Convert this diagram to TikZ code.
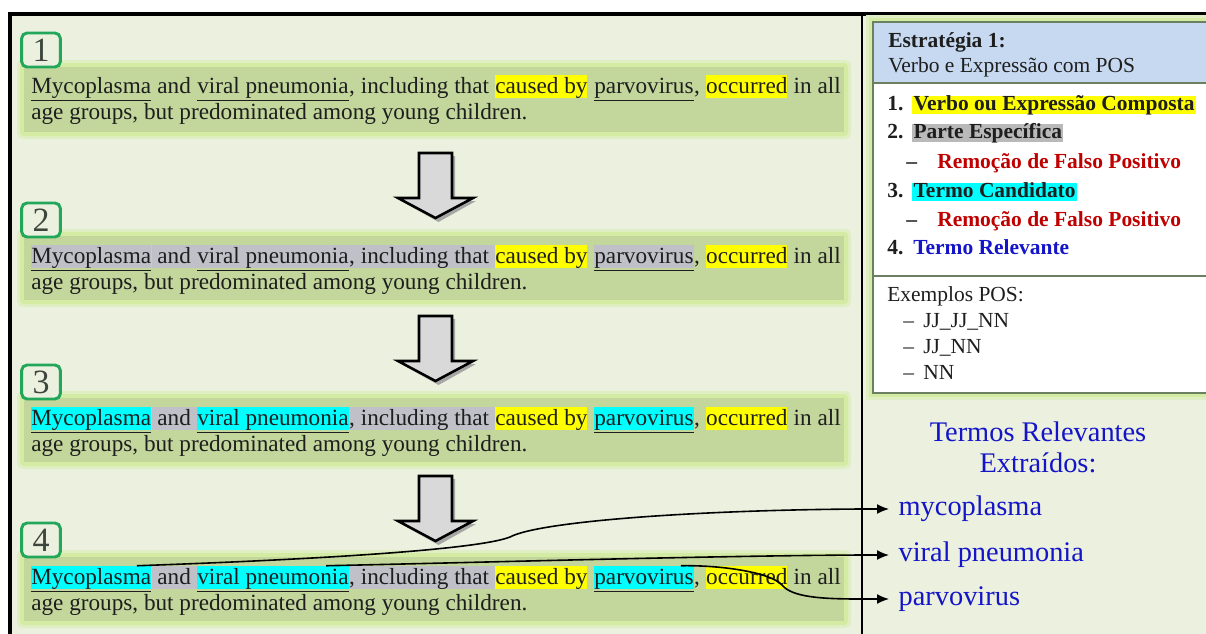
\documentclass[tikz,border=0pt]{standalone}
\usepackage{fontspec}
\setmainfont{Liberation Serif}
\usetikzlibrary{arrows.meta,calc}

\definecolor{panelbg}{HTML}{EBF1DE}
\definecolor{boxfill}{HTML}{C3D69B}
\definecolor{boxglow}{HTML}{D3EBA3}
\definecolor{tagline}{HTML}{22A65A}
\definecolor{tagtext}{HTML}{3C463C}
\definecolor{hlgray}{HTML}{C0C0C8}
\definecolor{hlyellow}{HTML}{FFFF00}
\definecolor{hlcyan}{HTML}{00FFFF}
\definecolor{headblue}{HTML}{C6D9F1}
\definecolor{legendline}{HTML}{6A8060}
\definecolor{falsered}{HTML}{C00000}
\definecolor{termblue}{HTML}{1414C8}
\definecolor{textdark}{HTML}{1E1E1E}

\newcommand\mainsize{\fontsize{17.4pt}{20pt}\selectfont}
\newcommand\legsize{\fontsize{16.1pt}{19pt}\selectfont}
\newcommand\termsize{\fontsize{21.3pt}{23.3pt}\selectfont}
% an interword space that survives at the end of a node
\newcommand\wsp{\ \null}

% one example sentence: #1 name prefix, #2 first baseline,
% #3..#7 highlight of Mycoplasma / and / viral pneumonia / including that / parvovirus
\newcommand\sentence[7]{%
  \node[wd,fill=#3] (#1a) at (31,#2) {\underline{Mycoplasma}};
  \node[wd,fill=#4] (#1b) at (#1a.base east) {\ and\wsp};
  \node[wd,fill=#5] (#1c) at (#1b.base east) {\underline{viral pneumonia}};
  \node[wd,fill=#6] (#1d) at (#1c.base east) {, including that\wsp};
  \node[wd,fill=hlyellow] (#1e) at (#1d.base east) {caused by};
  \node[wd] (#1f) at (#1e.base east) {\wsp};
  \node[wd,fill=#7] (#1g) at (#1f.base east) {\underline{parvovirus}};
  \node[wd] (#1h) at (#1g.base east) {,\wsp};
  \node[wd,fill=hlyellow] (#1i) at (#1h.base east) {occurred};
  \node[wd] (#1j) at (#1i.base east) {\ in all};
  \node[wd] (#1k) at (31,{#2+26}) {age groups, but predominated among young children.};
}

% glowing green panel behind a sentence: #1 top, #2 bottom
\newcommand\sentpanel[2]{%
  \fill[boxglow!45!panelbg, rounded corners=4] (17,{#1-7}) rectangle (851,{#2+7});
  \fill[boxglow, rounded corners=3] (20,{#1-4}) rectangle (848,{#2+4});
  \fill[boxfill] (24,#1) rectangle (844,#2);
}

\tikzset{
  wd/.style={inner sep=0pt, anchor=base west, text height=13.5pt, text depth=4pt,
             font=\mainsize, text=textdark},
  tag/.style={draw=tagline, line width=2.2pt, rounded corners=4pt, fill=panelbg,
              minimum width=29pt, minimum height=25.5pt, inner sep=0pt,
              font=\fontsize{25.5pt}{26pt}\selectfont, text=tagtext},
  leg/.style={anchor=west, inner sep=0pt, text height=10.8pt, text depth=3.2pt,
              font=\legsize, text=textdark},
  legb/.style={leg, font=\legsize\bfseries},
  hl/.style={fill=#1, inner xsep=1pt},
  term/.style={anchor=west, inner xsep=7pt, inner ysep=0pt, text height=14pt,
               text depth=4.5pt, font=\termsize, text=termblue},
  conn/.style={draw=black, line width=1.2pt, -{Latex[length=9pt,width=7.5pt]}},
  pics/downarrow/.style={code={
    \fill[gray!70] (-13.5,3) -- (19.5,3) -- (19.5,48) -- (40.5,48) -- (3,69)
      -- (-34.5,48) -- (-13.5,48) -- cycle;
    \shadedraw[line width=1.9pt, line join=miter, shading=axis, shading angle=90,
      left color=gray!30, middle color=white, right color=gray!30]
      (-16.5,0) -- (16.5,0) -- (16.5,45) -- (37.5,45)
      -- (0,65) -- (-37.5,45) -- (-16.5,45) -- cycle;
  }},
}

\begin{document}
\begin{tikzpicture}[x=0.75pt,y=-0.75pt]
\useasboundingbox (0,0) rectangle (1206,633);
\clip (0,0) rectangle (1206,633);

% page and framed area
\fill[white] (0,0) rectangle (1206,633);
\fill[panelbg] (10,14) rectangle (1210,640);
\draw[line width=2.6pt] (10,640) -- (10,14) -- (1210,14);
\draw[line width=1.3pt] (862,14) -- (862,640);

% sentence panels
\sentpanel{67}{132}
\sentpanel{236}{300}
\sentpanel{398}{462}
\sentpanel{557}{621}

% step tags
\node[tag] (t1) at (41,50) {1};
\node[tag] (t2) at (41,220) {2};
\node[tag] (t3) at (41,382) {3};
\node[tag] (t4) at (41,540) {4};

% block arrows between steps
\pic at (435.5,153) {downarrow};
\pic at (435.5,316) {downarrow};
\pic at (435.5,476) {downarrow};

% the four stages of the sentence
\sentence{sa}{93}{none}{none}{none}{none}{none}
\sentence{sb}{263}{hlgray}{hlgray}{hlgray}{hlgray}{hlgray}
\sentence{sc}{425}{hlcyan}{hlgray}{hlcyan}{hlgray}{hlcyan}
\sentence{sd}{584}{hlcyan}{hlgray}{hlcyan}{hlgray}{hlcyan}

% strategy legend
\fill[boxglow!45!panelbg] (866,15) rectangle (1215,400);
\fill[boxglow] (869,18) rectangle (1215,397);
\fill[white] (873,22) rectangle (1215,393);
\fill[headblue] (873,22) rectangle (1215,83);
\draw[legendline, line width=0.9pt] (1215,22) -- (873,22) -- (873,393) -- (1215,393);
\draw[legendline, line width=0.9pt] (873,83) -- (1215,83);
\draw[legendline, line width=0.9pt] (873,276) -- (1215,276);

\node[legb] (h1) at (888,42) {Estratégia 1:};
\node[leg] (h2) at (888,67) {Verbo e Expressão com POS};

\node[legb] (n1) at (887,105) {1.};
\node[legb, hl=hlyellow] (i1) at (912,105) {Verbo ou Expressão Composta};
\node[legb] (n2) at (887,133) {2.};
\node[legb, hl=gray!55] (i2) at (912,133) {Parte Específica};
\node[legb] (d1) at (906,163) {–};
\node[legb, text=falsered] (r1) at (937,163) {Remoção de Falso Positivo};
\node[legb] (n3) at (887,192) {3.};
\node[legb, hl=hlcyan] (i3) at (912,192) {Termo Candidato};
\node[legb] (d2) at (906,221) {–};
\node[legb, text=falsered] (r2) at (937,221) {Remoção de Falso Positivo};
\node[legb] (n4) at (887,249) {4.};
\node[legb, text=termblue] (i4) at (913,249) {Termo Relevante};

\node[leg] (ex) at (887,296) {Exemplos POS:};
\node[leg] (e1d) at (903,322) {–};
\node[leg] (e1) at (923,322) {JJ\_JJ\_NN};
\node[leg] (e2d) at (903,348) {–};
\node[leg] (e2) at (923,348) {JJ\_NN};
\node[leg] (e3d) at (903,374) {–};
\node[leg] (e3) at (923,374) {NN};

% extracted terms
\node[align=center, font=\termsize, text=termblue] (ttl) at (1038,447)
  {Termos Relevantes\\Extraídos:};
\node[term] (m1) at (889,509) {mycoplasma};
\node[term] (m2) at (889,555) {viral pneumonia};
\node[term] (m3) at (889,599) {parvovirus};

% links from the candidate terms of the last stage
\coordinate (s1) at ($(sda.north west)!0.88!(sda.north east)$);
\coordinate (s2) at ($(sdc.north west)!0.85!(sdc.north east)$);
\coordinate (s3) at ($(sdg.north west)!0.87!(sdg.north east)$);
\draw[conn] (s1) .. controls (330,559) and (480,549) .. (510,537)
  .. controls (540,521) and (700,510) .. (860,509) -- (m1.west);
\draw[conn] (s2) .. controls (500,562) and (700,556) .. (860,555) -- (m2.west);
\draw[conn] (s3) .. controls (720,565) and (770,572) .. (782,585)
  .. controls (792,597) and (820,599) .. (860,599) -- (m3.west);
\end{tikzpicture}
\end{document}
